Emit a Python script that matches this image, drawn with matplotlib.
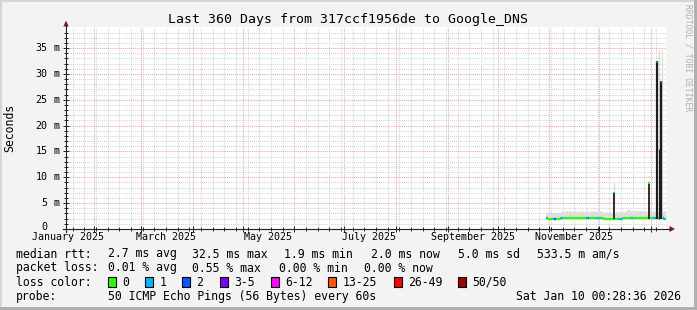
import numpy as np
import pandas as pd
import matplotlib
matplotlib.use('Agg')
import matplotlib.pyplot as plt
import matplotlib.dates as mdates
from matplotlib.patches import Rectangle, Polygon

W, H = 697, 310
MONO = 'DejaVu Sans Mono'

# time window of the graph
start = pd.Timestamp('2025-01-15 00:28:36')
end = pd.Timestamp('2026-01-10 00:28:36')

# daily data from 2025-10-30 (rtt in ms)
first_day = '2025-10-30'
median_ms = [2.1,
             1.9, 1.9, 1.9, 1.9, 1.9, 1.9, 1.9, 1.9,
             2.1, 2.1, 2.1, 2.1, 2.1, 2.1, 2.1, 2.1, 2.1, 2.1, 2.1, 2.1, 2.1,
             2.1, 2.1, 2.1, 2.1, 2.1, 2.1, 2.1, 2.1, 2.1, 2.1, 2.1, 2.1, 2.1,
             1.9, 1.9, 1.9, 1.9, 1.9, 1.9, 1.9, 1.9, 1.9, 1.9, 1.9,
             2.1, 2.1, 2.1, 2.1, 2.1, 2.1, 2.1, 2.1, 2.1, 2.1, 2.1, 2.1, 2.1,
             2.1, 2.1, 2.1, 2.1, 2.1, 2.1, 2.1, 2.1, 2.1, 2.1, 2.1, 2.1, 2.0]
loss_idx = [1, 0, 0, 0, 1, 2, 0, 0, 0, 1, 0, 0, 0, 0, 0, 0, 0, 0, 0, 0,
            0, 0, 0, 0, 1, 2, 0, 0, 0, 0, 1, 0, 1, 0, 0, 0, 0, 0, 0, 0,
            0, 0, 0, 0, 1, 1, 0, 0, 0, 0, 0, 1, 0, 0, 0, 0, 0, 0, 0, 0,
            0, 0, 0, 0, 1, 1, 0, 0, 0, 0, 1, 1]
smoke_hi = [3.0, 3.0, 3.0, 3.1, 3.0, 3.1, 3.0, 3.1, 3.0, 3.3, 3.4, 3.3, 3.5, 3.3,
            3.4, 3.3, 3.3, 3.4, 3.3, 3.5, 3.3, 3.4, 3.3, 3.3, 3.4, 3.3, 3.3, 3.5,
            3.3, 3.4, 3.3, 3.3, 3.4, 3.3, 3.3, 3.1, 3.2, 3.1, 3.2, 3.1, 3.2, 3.1,
            3.2, 3.1, 3.2, 3.1, 3.4, 3.3, 3.4, 3.8, 3.7, 3.4, 3.3, 3.5, 3.4, 3.3,
            3.4, 3.5, 3.3, 3.4, 3.3, 3.4, 3.5, 3.3, 3.4, 3.3, 3.4, 3.3, 3.5, 3.4,
            3.3, 3.4]
smoke_lo = 1.8

# short spikes of the median
spike_times = ['2025-12-09 22:00', '2025-12-30 22:00', '2026-01-04 12:00',
               '2026-01-06 00:00', '2026-01-06 22:00']
spike_ms = [7.2, 9.0, 32.5, 15.5, 28.6]
spike_width = [1.3, 1.3, 1.6, 0.8, 1.6]
# faint smoke peaks
peak_times = ['2025-12-09 18:00', '2026-01-05 22:00', '2026-01-07 12:00']
peak_ms = [9.1, 34.6, 34.6]

loss_labels = ['0', '1', '2', '3-5', '6-12', '13-25', '26-49', '50/50']
loss_colors = ['#26ff00', '#00b8ff', '#0059ff', '#7e00ff',
               '#ff00ff', '#ff5500', '#ff0000', '#a00000']

label_dates = ['2025-01-16', '2025-03-16', '2025-05-16',
               '2025-07-16', '2025-09-16', '2025-11-16']
label_text = ['January 2025', 'March 2025', 'May 2025',
              'July 2025', 'September 2025', 'November 2025']
ytick_vals = [0, 5, 10, 15, 20, 25, 30, 35]


def dn(t):
    return mdates.date2num(pd.Timestamp(t).to_pydatetime())


fig = plt.figure(figsize=(W / 100, H / 100), dpi=100, facecolor='#f3f3f3')
ax = fig.add_axes([66 / W, (H - 229) / H, 600 / W, 202 / H])
ax.set_facecolor('white')
ax.set_xlim(dn(start), dn(end))
ax.set_ylim(0, 39.07)
for s in ax.spines.values():
    s.set_visible(False)

months = [dn(t) for t in pd.date_range('2025-02-01', '2026-01-01', freq='MS')]
weeks = [dn(t) for t in pd.date_range('2025-01-19', '2026-01-10', freq='7D')]
ax.set_xticks(months)
ax.set_xticks(weeks, minor=True)
ax.set_yticks(ytick_vals)
ax.set_yticks(np.arange(0, 39, 1), minor=True)
ax.grid(which='minor', color='#d4d4d4', ls=(0, (1, 1)), lw=0.75)
ax.grid(which='major', color='#f4a4a4', ls=(0, (1, 1)), lw=0.75)
ax.set_axisbelow(True)
ax.tick_params(which='both', direction='inout', labelbottom=False,
               labelleft=False, color='#202020', width=0.7)
ax.tick_params(which='major', length=5)
ax.tick_params(which='minor', length=3)

# smoke
days = pd.date_range(first_day, periods=len(median_ms) + 1, freq='D')
tx = [dn(t) for t in days]
ax.fill_between(tx, smoke_lo, smoke_hi + [smoke_hi[-1]], step='post',
                color='#dedede', lw=0, zorder=2)
for t, v in zip(peak_times, peak_ms):
    ax.vlines(dn(t), 2.0, v, color='#d8d8d8', lw=0.8, zorder=2)

# median line coloured by loss
for i, m in enumerate(median_ms):
    prev = median_ms[i - 1] if i > 0 else m
    ax.plot([tx[i], tx[i], tx[i + 1]], [prev, m, m],
            color=loss_colors[loss_idx[i]], lw=1.6,
            solid_capstyle='butt', zorder=3)

for t, v, w in zip(spike_times, spike_ms, spike_width):
    ax.vlines(dn(t), 2.0, v, color='#1e1e1e', lw=w, zorder=4)
    ax.plot([dn(t), dn(t)], [v - 0.25, v], color=loss_colors[0],
            lw=w + 0.3, solid_capstyle='butt', zorder=5)

# axis labels
for d, s in zip(label_dates, label_text):
    ax.text(dn(d), -8.5 / 202, s, transform=ax.get_xaxis_transform(),
            ha='center', va='center', family=MONO, fontsize=7.2)
for v in ytick_vals:
    yy = v if v > 0 else 0.3
    ax.text(-18.5 / 600, yy, str(v), transform=ax.get_yaxis_transform(),
            ha='right', va='center', family=MONO, fontsize=7.2)
    if v > 0:
        ax.text(-12 / 600, v, 'm', transform=ax.get_yaxis_transform(),
                ha='left', va='center', family=MONO, fontsize=7.2)

# overlay in pixel coordinates
ov = fig.add_axes([0, 0, 1, 1], zorder=5)
ov.set_xlim(0, W)
ov.set_ylim(H, 0)
ov.axis('off')
ov.patch.set_visible(False)

ov.add_patch(Rectangle((0, 0), W, 2, color='#d6d6d6', lw=0))
ov.add_patch(Rectangle((0, 0), 2, H, color='#d6d6d6', lw=0))
ov.add_patch(Rectangle((W - 3, 0), 3, H, color='#b0b0b0', lw=0))
ov.add_patch(Rectangle((0, H - 3), W, 3, color='#b0b0b0', lw=0))

ov.plot([66, 66], [232, 25], color='#202020', lw=0.8)
ov.plot([63, 670], [229, 229], color='#202020', lw=0.8)
ov.add_patch(Polygon([[63.3, 26.5], [68.7, 26.5], [66, 20.5]], color='#8b1a1a', lw=0))
ov.add_patch(Polygon([[669.5, 226], [669.5, 232], [675, 229]], color='#8b1a1a', lw=0))

ov.text(348.5, 19, 'Last 360 Days from 317ccf1956de to Google_DNS',
        ha='center', va='center', family=MONO, fontsize=9.5)
ov.text(10, 128, 'Seconds', rotation=90, ha='center', va='center',
        family=MONO, fontsize=8.3)
ov.text(688, 4, 'RRDTOOL / TOBI OETIKER', rotation=-90, ha='center', va='top',
        family=MONO, fontsize=5.8, color='#b0b0b0')

LF = 8.3
row1 = [(16, 'median rtt:'), (107.6, '2.7 ms avg'), (192.4, '32.5 ms max'),
        (284.4, '1.9 ms min'), (371, '2.0 ms now'), (457.8, '5.0 ms sd'),
        (536.9, '533.5 m am/s')]
row2 = [(16, 'packet loss:'), (107.6, '0.01 % avg'), (192.4, '0.55 % max'),
        (279, '0.00 % min'), (364.4, '0.00 % now')]
for x, s in row1:
    ov.text(x, 254, s, ha='left', va='center', family=MONO, fontsize=LF)
for x, s in row2:
    ov.text(x, 268, s, ha='left', va='center', family=MONO, fontsize=LF)

ov.text(16, 282, 'loss color:', ha='left', va='center', family=MONO, fontsize=LF)
box_x = [108, 145, 182, 219.6, 270.7, 328, 393.8, 457.8]
for bx, lab, col in zip(box_x, loss_labels, loss_colors):
    ov.add_patch(Rectangle((bx, 277), 8, 9.5, facecolor=col,
                           edgecolor='black', lw=0.8))
    ov.text(bx + 14.6, 282, lab, ha='left', va='center', family=MONO, fontsize=LF)

ov.text(16, 296.5, 'probe:', ha='left', va='center', family=MONO, fontsize=LF)
ov.text(107.6, 296.5, '50 ICMP Echo Pings (56 Bytes) every 60s',
        ha='left', va='center', family=MONO, fontsize=LF)
ov.text(681, 296.5, 'Sat Jan 10 00:28:36 2026', ha='right', va='center',
        family=MONO, fontsize=LF)

fig.savefig('out.png', dpi=100, facecolor=fig.get_facecolor())
